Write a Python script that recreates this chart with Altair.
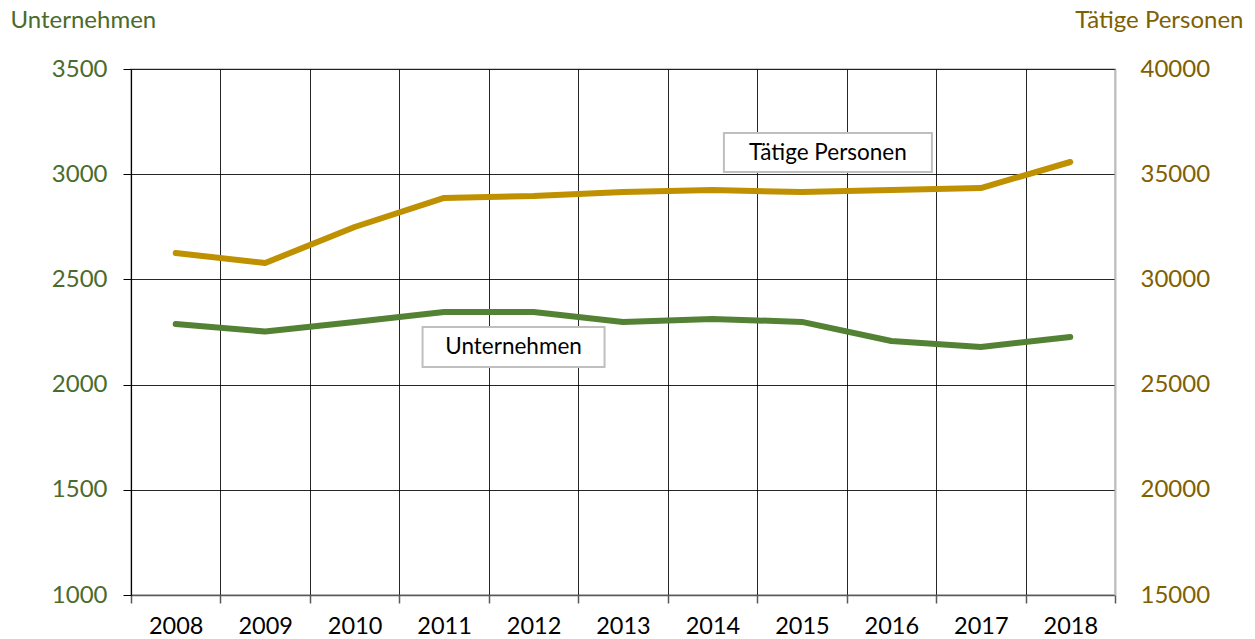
import altair as alt
import pandas as pd

years = ["2008", "2009", "2010", "2011", "2012", "2013", "2014", "2015", "2016", "2017", "2018"]
unternehmen = [2288, 2252, 2298, 2345, 2345, 2298, 2312, 2298, 2207, 2179, 2226]
taetige = [31250, 30780, 32490, 33870, 33960, 34150, 34250, 34150, 34250, 34340, 35580]

left_domain = [1000, 3500]
right_domain = [15000, 40000]

GREEN = "#548235"
GOLD = "#BF9000"
GREEN_TXT = "#4A6B2C"
GOLD_TXT = "#7F6000"
FONT = "Lato"

df = pd.DataFrame({"Jahr": years, "Unternehmen": unternehmen, "Taetige": taetige})
ann_u = pd.DataFrame({"Jahr": ["2012"], "v": [2179], "label": ["Unternehmen"]})
ann_t = pd.DataFrame({"Jahr": ["2015"], "v": [36030], "label": ["Tätige Personen"]})

x_enc = alt.X(
    "Jahr:O",
    sort=years,
    scale=alt.Scale(type="band", paddingInner=0, paddingOuter=0),
    axis=alt.Axis(
        title=None, labelAngle=0, tickBand="extent", grid=True,
        gridColor="#000000", gridOpacity=0.85, gridWidth=1,
        domainColor="#595959", domainWidth=1.5,
        tickColor="#595959", tickSize=8, tickWidth=1.5,
        labelFont=FONT, labelFontSize=23.5, labelColor="#000000", labelPadding=11,
    ),
)

y_left = alt.Y(
    "Unternehmen:Q",
    scale=alt.Scale(domain=left_domain, nice=False, zero=False),
    axis=alt.Axis(
        values=[1000, 1500, 2000, 2500, 3000, 3500], format="d",
        title="Unternehmen", titleAngle=0, titleX=-121, titleY=-42,
        titleAlign="left", titleBaseline="alphabetic", titleFont=FONT,
        titleFontSize=24, titleFontWeight="normal", titleColor=GREEN_TXT,
        labelFont=FONT, labelFontSize=24, labelColor=GREEN_TXT, labelPadding=16,
        grid=True, gridColor="#000000", gridOpacity=0.85, gridWidth=1,
        domainColor="#000000", domainWidth=1.2, tickColor="#000000", tickSize=8,
    ),
)

y_right = alt.Y(
    "Taetige:Q",
    scale=alt.Scale(domain=right_domain, nice=False, zero=False),
    axis=alt.Axis(
        orient="right", values=[15000, 20000, 25000, 30000, 35000, 40000], format="d",
        title="Tätige Personen", titleAngle=0, titleX=128, titleY=-42,
        titleAlign="right", titleBaseline="alphabetic", titleFont=FONT,
        titleFontSize=24, titleFontWeight="normal", titleColor=GOLD_TXT,
        labelFont=FONT, labelFontSize=24, labelColor=GOLD_TXT, labelPadding=25,
        grid=False, ticks=False, tickSize=0,
        domainColor="#BFBFBF", domainWidth=2,
    ),
)

line_u = alt.Chart(df).mark_line(color=GREEN, strokeWidth=6, strokeCap="round", strokeJoin="round").encode(
    x=x_enc, y=y_left
)
box_u = alt.Chart(ann_u).mark_rect(
    width=182, height=40, fill="white", stroke="#BFBFBF", strokeWidth=2, xOffset=-20
).encode(
    x=alt.X("Jahr:O", sort=years),
    y=alt.Y("v:Q", scale=alt.Scale(domain=left_domain, nice=False, zero=False)),
)
txt_u = alt.Chart(ann_u).mark_text(
    font=FONT, fontSize=22.5, color="#000000", xOffset=-20, align="center", baseline="middle"
).encode(
    x=alt.X("Jahr:O", sort=years),
    y=alt.Y("v:Q", scale=alt.Scale(domain=left_domain, nice=False, zero=False)),
    text="label:N",
)

line_t = alt.Chart(df).mark_line(color=GOLD, strokeWidth=6, strokeCap="round", strokeJoin="round").encode(
    x=x_enc, y=y_right
)
box_t = alt.Chart(ann_t).mark_rect(
    width=208, height=39, fill="white", stroke="#BFBFBF", strokeWidth=2, xOffset=26
).encode(
    x=alt.X("Jahr:O", sort=years),
    y=alt.Y("v:Q", scale=alt.Scale(domain=right_domain, nice=False, zero=False)),
)
txt_t = alt.Chart(ann_t).mark_text(
    font=FONT, fontSize=22.5, color="#000000", xOffset=26, align="center", baseline="middle"
).encode(
    x=alt.X("Jahr:O", sort=years),
    y=alt.Y("v:Q", scale=alt.Scale(domain=right_domain, nice=False, zero=False)),
    text="label:N",
)

left = alt.layer(line_u, box_u, txt_u)
right = alt.layer(box_t, line_t, txt_t)

chart = (
    alt.layer(left, right)
    .resolve_scale(y="independent")
    .properties(
        width=984,
        height=526,
        autosize=alt.AutoSizeParams(type="none"),
        padding={"left": 123, "top": 61, "right": 132, "bottom": 44},
        background="white",
    )
    .configure_view(stroke="#BFBFBF", strokeWidth=1.5)
)

chart.save("out.html", embed_options={"renderer": "svg", "actions": False})
